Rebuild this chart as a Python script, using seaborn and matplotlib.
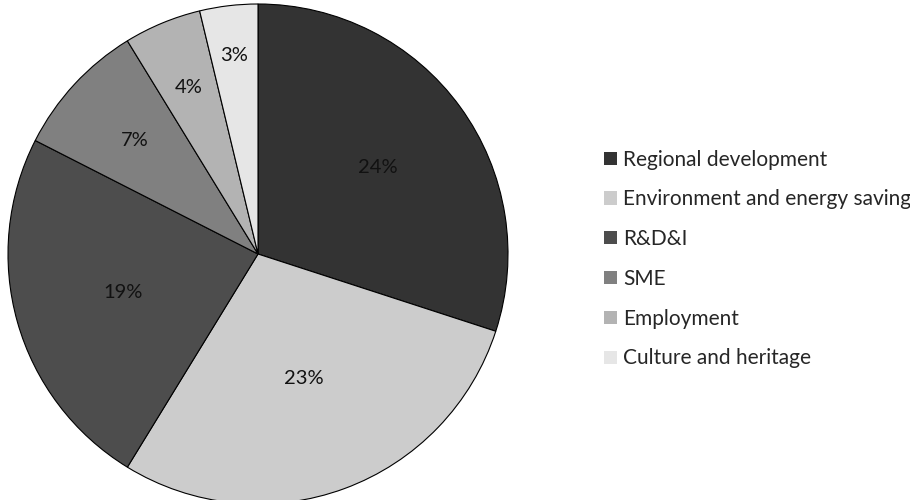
import matplotlib
matplotlib.use("Agg")
import matplotlib.pyplot as plt
import numpy as np
import seaborn as sns
from matplotlib.patches import Patch

categories = ["Regional development", "Environment and energy saving", "R&D&I",
              "SME", "Employment", "Culture and heritage"]
shares = [24, 23, 19, 7, 4, 3]
colors = ["#333333", "#cccccc", "#4d4d4d", "#808080", "#b3b3b3", "#e6e6e6"]

# radial placement of each percentage label (fraction of radius)
label_radius = [0.59, 0.53, 0.56, 0.67, 0.72, 0.80]

sns.set_theme(style="white")
plt.rcParams["font.family"] = ["Lato", "DejaVu Sans"]

fig = plt.figure(figsize=(9.1, 5.0), dpi=100)
ax = fig.add_axes([8 / 910, -4 / 500, 500 / 910, 500 / 500])

wedges, _ = ax.pie(shares, colors=colors, startangle=90, counterclock=False,
                   radius=1.0,
                   wedgeprops=dict(edgecolor="black", linewidth=0.8))

for w, v, r in zip(wedges, shares, label_radius):
    mid = np.deg2rad((w.theta1 + w.theta2) / 2)
    ax.text(r * np.cos(mid), r * np.sin(mid), f"{v}%", ha="center", va="center",
            fontsize=14.5, color="#111111")

ax.set_xlim(-1, 1)
ax.set_ylim(-1, 1)
ax.set_aspect("equal")
ax.axis("off")

handles = [Patch(facecolor=c, edgecolor="none") for c in colors]
fig.legend(handles, categories, loc="center left", bbox_to_anchor=(596 / 910, 0.482),
           frameon=False, fontsize=15, handlelength=0.6, handleheight=0.6,
           handletextpad=0.3, labelspacing=0.95, borderaxespad=0)

fig.savefig("out.png", dpi=100)
